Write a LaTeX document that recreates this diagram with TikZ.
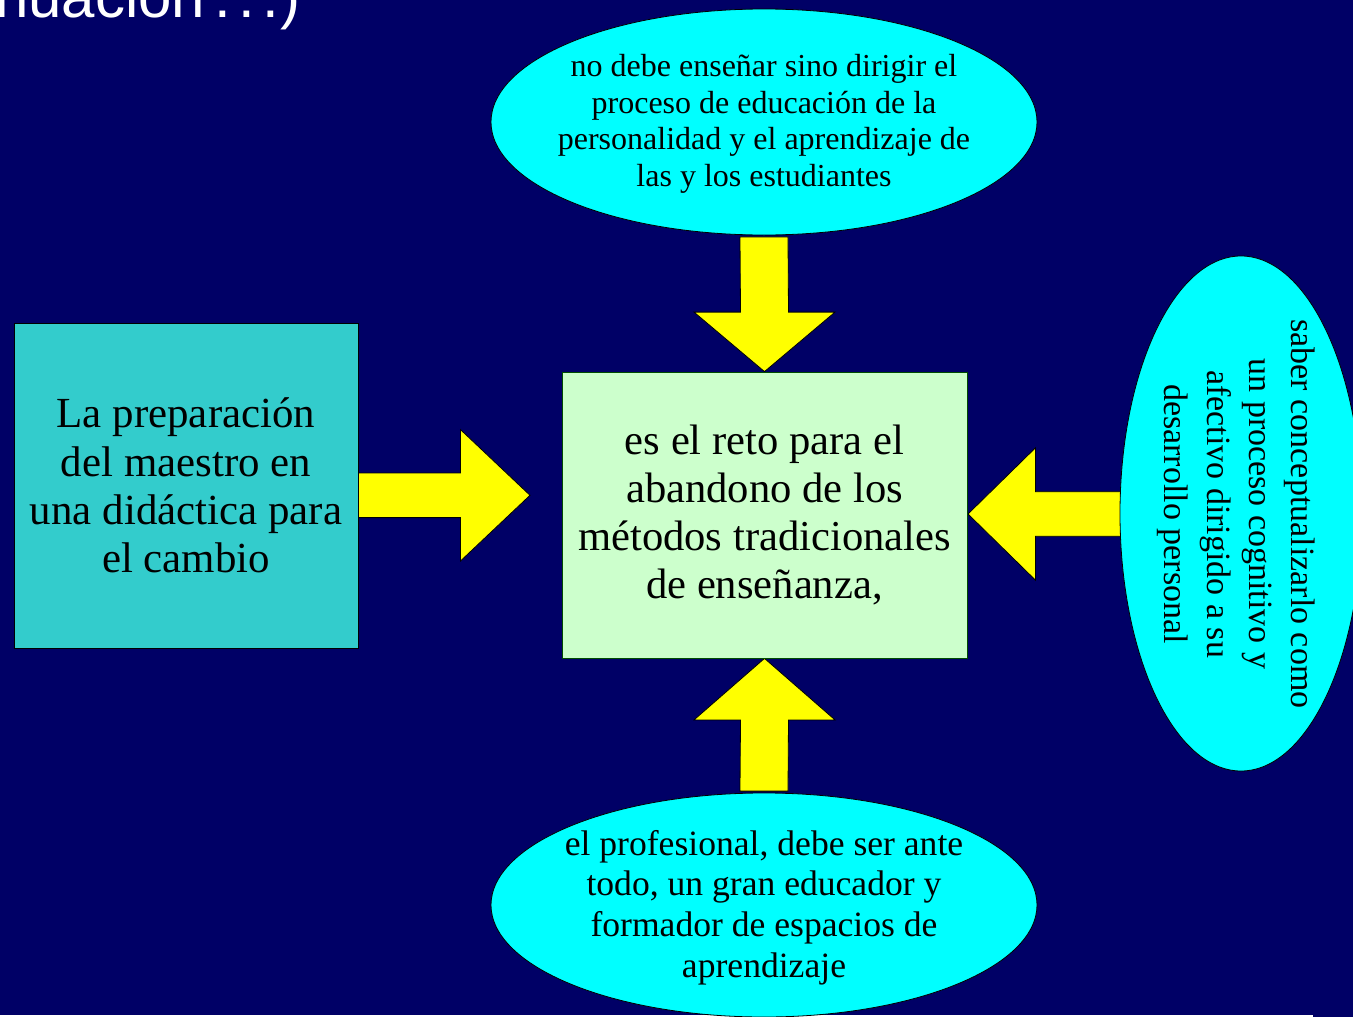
\documentclass[tikz,border=0pt]{standalone}
\usepackage{fontspec}
\setmainfont{Liberation Serif}
\newfontfamily\titlefont{Liberation Sans}
\usetikzlibrary{shapes.geometric,calc}
\definecolor{navybg}{HTML}{000066}
\definecolor{cyanfill}{HTML}{00FFFF}
\definecolor{leftfill}{HTML}{33CCCC}
\definecolor{centerfill}{HTML}{CCFFCC}
\definecolor{arrowyellow}{HTML}{FFFF00}
\pgfdeclarelayer{bg}
\pgfdeclarelayer{arrows}
\pgfsetlayers{bg,arrows,main}
\begin{document}
\begin{tikzpicture}[x=1pt,y=-1pt,
  bubble/.style={ellipse,draw=black,line width=0.8pt,fill=cyanfill,inner sep=0pt},
  boxnode/.style={rectangle,draw=black,line width=0.8pt,inner sep=0pt,align=center,text=black},
  txt/.style={align=center,inner sep=0pt,text=black},
  blockarrow/.style={fill=arrowyellow,draw=black,line width=0.8pt,line join=miter}]
\useasboundingbox (0,0) rectangle (1353,1017);

% shapes
\node[bubble,minimum width=546,minimum height=226] (top) at (764,122) {};
\node[txt,font=\fontsize{32}{36.7}\selectfont] (toptext) at (764,124)
  {no debe enseñar sino dirigir el\\proceso de educación de la\\personalidad y el aprendizaje de\\las y los estudiantes};

\node[boxnode,fill=centerfill,draw=black!70!green,minimum width=405,minimum height=286,
  font=\fontsize{42.6}{48.3}\selectfont] (mid) at (764.5,515)
  {es el reto para el\\abandono de los\\métodos tradicionales\\de enseñanza,};

\node[boxnode,fill=leftfill,minimum width=344,minimum height=325,
  font=\fontsize{42.9}{48.4}\selectfont] (left) at (186,485.5)
  {La preparación\\del maestro en\\una didáctica para\\el cambio};

\node[bubble,minimum width=242,minimum height=515] (right) at (1241,513.5) {};
\node[txt,rotate=-90,font=\fontsize{34}{42.3}\selectfont] (righttext) at (1236.5,514)
  {saber conceptualizarlo como\\un proceso cognitivo y\\afectivo dirigido a su\\desarrollo personal};

\node[bubble,minimum width=546,minimum height=224] (bot) at (764,905) {};
\node[txt,font=\fontsize{35.6}{40.7}\selectfont] (bottext) at (764,907.5)
  {el profesional, debe ser ante\\todo, un gran educador y\\formador de espacios de\\aprendizaje};

\coordinate (rtip) at (530,495.3);
\coordinate (ltip) at (968,514);

\begin{pgfonlayer}{bg}
  \fill[navybg] (0,0) rectangle (1353,1017);
  \fill[white] (0,1015) rectangle (1313,1017);
  \node[anchor=base west,inner sep=0pt,text=white,font=\titlefont\fontsize{60}{66}\selectfont] (title) at (-5,17)
    {nuación\kern9pt.\kern7.3pt.\kern7.3pt.\kern2pt)};
\end{pgfonlayer}

\begin{pgfonlayer}{arrows}
  % down arrow
  \draw[blockarrow] ($(top.south)+(-24,1.5)$) -- ($(mid.north)+(-24,-59.5)$) -- ($(mid.north)+(-70.5,-59.5)$)
    -- (mid.north) -- ($(mid.north)+(70.5,-59.5)$) -- ($(mid.north)+(24,-59.5)$) -- ($(top.south)+(24,1.5)$) -- cycle;
  % up arrow
  \draw[blockarrow] ($(bot.north)+(-24,-1.5)$) -- ($(mid.south)+(-24,61.5)$) -- ($(mid.south)+(-70.5,61.5)$)
    -- (mid.south) -- ($(mid.south)+(70.5,61.5)$) -- ($(mid.south)+(24,61.5)$) -- ($(bot.north)+(24,-1.5)$) -- cycle;
  % right-pointing arrow
  \draw[blockarrow] ($(left.east|-rtip)+(0,-22.3)$) -- ($(rtip)+(-69.5,-22.3)$) -- ($(rtip)+(-69.5,-65.7)$)
    -- (rtip) -- ($(rtip)+(-69.5,65.7)$) -- ($(rtip)+(-69.5,22.3)$) -- ($(left.east|-rtip)+(0,22.3)$) -- cycle;
  % left-pointing arrow
  \draw[blockarrow] ($(right.west|-ltip)+(1,-22.3)$) -- ($(ltip)+(67.5,-22.3)$) -- ($(ltip)+(67.5,-66.2)$)
    -- (ltip) -- ($(ltip)+(67.5,66.2)$) -- ($(ltip)+(67.5,22.3)$) -- ($(right.west|-ltip)+(1,22.3)$) -- cycle;
\end{pgfonlayer}
\end{tikzpicture}
\end{document}
